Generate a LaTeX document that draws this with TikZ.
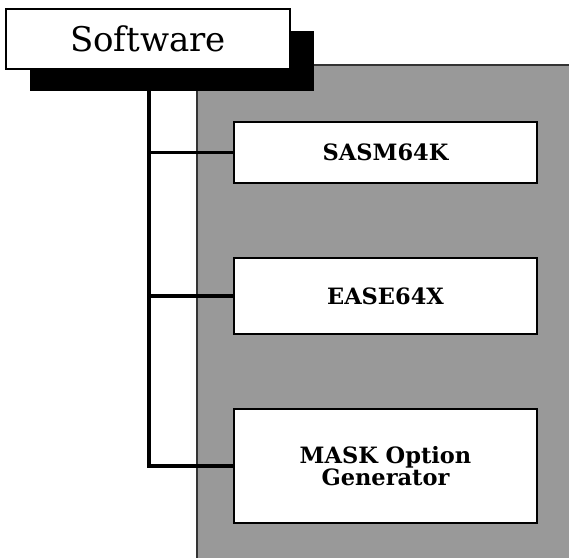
\documentclass[tikz,border=0pt]{standalone}
\usepackage{fontspec}
\setmainfont{DejaVu Serif}
\definecolor{panelgray}{HTML}{999999}
\tikzset{
  x=1pt, y=1pt,
  itembox/.style={draw=black, line width=2.5pt, fill=white, minimum width=303pt, inner sep=0pt, align=center, font=\fontsize{22.5}{21}\selectfont\bfseries},
  conn/.style={line width=3.5pt, line cap=butt},
}
\begin{document}
\begin{tikzpicture}
\useasboundingbox (0,0) rectangle (569,-557);
\clip (0,0) rectangle (569,-557);
% gray panel
\fill[panelgray, draw=black!80, line width=1.5pt] (197,-65) rectangle (580,-570);
% shadow and title box
\fill[black] (30,-31) rectangle (314,-91);
\node[draw=black, line width=1.5pt, fill=white, minimum width=284pt, minimum height=60pt, inner sep=0pt,
      font=\fontsize{34}{38}\selectfont] (sw) at (148,-39) {Software};
% item boxes
\node[itembox, minimum height=61pt] (sasm) at (385.5,-152.5) {SASM64K};
\node[itembox, minimum height=76pt] (ease) at (385.5,-296) {EASE64X};
\node[itembox, minimum height=114pt, text depth=0pt] (mask) at (385.5,-466) {MASK Option\\Generator};
% connectors
\coordinate (top) at (149,-91);
\draw[conn] (top) |- (mask.west);
\draw[conn] (top |- sasm.west) -- (sasm.west);
\draw[conn] (top |- ease.west) -- (ease.west);
\end{tikzpicture}
\end{document}
